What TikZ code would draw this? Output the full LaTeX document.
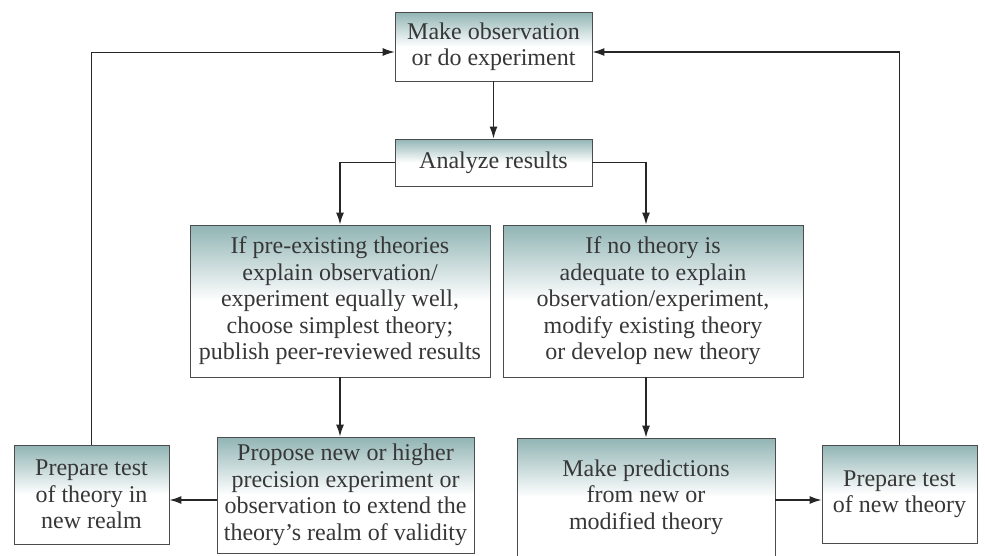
\documentclass[tikz,border=0pt]{standalone}
\usepackage{fontspec}
\setmainfont{Liberation Serif}
\usepackage{xcolor}
\usepackage{tikz}
\usetikzlibrary{calc, positioning, arrows.meta, shapes}

\definecolor{boxteal}{RGB}{145,180,180}
\definecolor{texte}{RGB}{55,55,55}

\begin{document}
\begin{tikzpicture}[x=1pt, y=-1pt]
		\tikzstyle{fleche}=[-{Latex[length=12pt,width=8pt]},line width=1.4pt,color=black!85]
		\tikzstyle{boite}=[draw=black!70, line width=0.8pt, top color=boxteal, bottom color=white, middle color=white, align=center, inner sep=0pt, text=texte, font=\fontsize{24}{26.5}\selectfont]
		\useasboundingbox (0,0) rectangle (985,555);

		\node[boite, minimum width=197pt, minimum height=69pt] (obs) at (493.5,46.5) {Make observation\\or do experiment};
		\node[boite, minimum width=197pt, minimum height=47pt] (analyze) at (493.5,162.5) {Analyze results};
		\node[boite, minimum width=300pt, minimum height=152pt] (preex) at (340,301) {If pre-existing theories\\explain observation/\\experiment equally well,\\choose simplest theory;\\publish peer-reviewed results};
		\node[boite, minimum width=300pt, minimum height=152pt] (notheory) at (653,301) {If no theory is\\adequate to explain\\observation/experiment,\\modify existing theory\\or develop new theory};
		\node[boite, minimum width=257pt, minimum height=116pt] (propose) at (345.5,495) {Propose new or higher\\precision experiment or\\observation to extend the\\theory's realm of validity};
		\node[boite, minimum width=155pt, minimum height=99pt] (realm) at (91.5,494.5) {Prepare test\\of theory in\\new realm};
		\node[boite, minimum width=258pt, minimum height=118pt] (predict) at (646,497) {Make predictions\\from new or\\modified theory};
		\node[boite, minimum width=155pt, minimum height=98pt] (newtest) at (899.5,494) {Prepare test\\of new theory};

%		main path
		\draw[fleche] (obs.south) -- (analyze.north);
		\draw[fleche] (analyze.west) -| (preex.north);
		\draw[fleche] (analyze.east) -| (predict.north |- notheory.north);
		\draw[fleche] (preex.south) -- (preex.south |- propose.north);
		\draw[fleche] (notheory.south -| predict.north) -- (predict.north);
		\draw[fleche] (propose.west |- 0,500) -- (realm.east |- 0,500);
		\draw[fleche] (predict.east |- 0,500) -- (newtest.west |- 0,500);

%		loops back to the top
		\draw[fleche, line width=1pt] (realm.north) |- ([yshift=-5.5pt]obs.west);
		\draw[fleche] (newtest.north) |- ([yshift=-5.5pt]obs.east);
\end{tikzpicture}
\end{document}
